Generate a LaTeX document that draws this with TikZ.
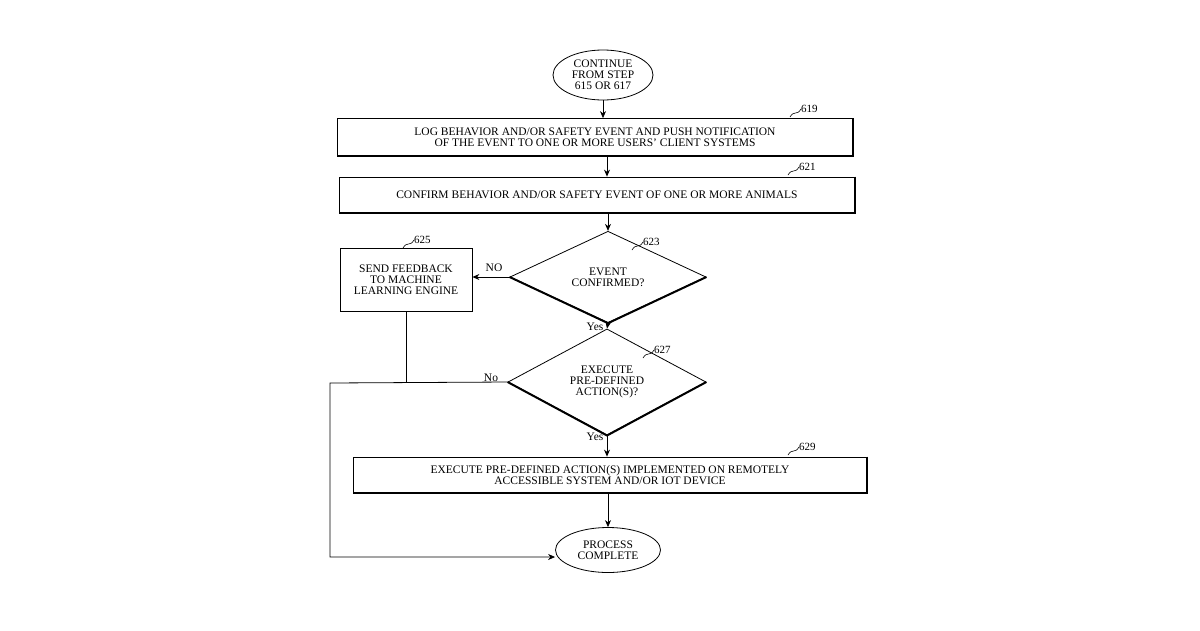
\documentclass[tikz,border=0pt]{standalone}
\usepackage{fontspec}
\setmainfont{Liberation Serif}
\usetikzlibrary{shapes.geometric,arrows.meta}
\begin{document}
\begin{tikzpicture}[x=1pt,y=-1pt,
  every node/.style={font=\fontsize{11.5}{11}\selectfont, align=center, inner sep=1pt},
  box/.style={draw, line width=0.8pt, rectangle},
  dia/.style={draw, line width=0.8pt, diamond},
  term/.style={draw, line width=0.8pt, ellipse},
  arr/.style={-{Stealth[length=7pt,width=6pt]}, line width=0.8pt},
  ln/.style={line width=0.8pt},
  sh/.style={line width=2pt},
  lab/.style={font=\fontsize{11}{11}\selectfont, anchor=south west, inner sep=0pt}]
\useasboundingbox (0,0) rectangle (1200,630);
\node[term, minimum width=100, minimum height=50] (start) at (603,75) {CONTINUE\\FROM STEP\\615 OR 617};
\node[box, minimum width=515, minimum height=37] (b619) at (595,137) {LOG BEHAVIOR AND/OR SAFETY EVENT AND PUSH NOTIFICATION\\OF THE EVENT TO ONE OR MORE USERS' CLIENT SYSTEMS};
\node[box, minimum width=515, minimum height=36] (b621) at (597,195) {CONFIRM BEHAVIOR AND/OR SAFETY EVENT OF ONE OR MORE ANIMALS};
\node[dia, minimum width=196, minimum height=81, inner sep=0pt] (d623) at (608,277) {EVENT\\CONFIRMED?};
\node[box, minimum width=132, minimum height=63] (b625) at (406,280) {SEND FEEDBACK\\TO MACHINE\\LEARNING ENGINE};
\node[dia, minimum width=198, minimum height=97, inner sep=0pt] (d627) at (607,382) {EXECUTE\\PRE-DEFINED\\ACTION(S)?};
\node[box, minimum width=514, minimum height=36] (b629) at (610,475) {EXECUTE PRE-DEFINED ACTION(S) IMPLEMENTED ON REMOTELY\\ACCESSIBLE SYSTEM AND/OR IOT DEVICE};
\node[term, minimum width=105, minimum height=45] (end) at (608,550) {PROCESS\\COMPLETE};
% shadows
\foreach \n in {b619,b621,b629}{\draw[sh] (\n.north east)--(\n.south east)--(\n.south west);}
\foreach \n in {d623,d627}{\draw[sh] (\n.west)--(\n.south)--(\n.east);}
% arrows
\draw[arr] (start.south) -- (start.south |- b619.north);
\draw[arr] (b619.south -| 607,0) -- (b621.north -| 607,0);
\draw[arr] (b621.south -| 608,0) -- (d623.north);
\draw[arr] (d623.west) -- (b625.east |- d623.west);
\draw[arr] (d623.south) -- (d627.north);
\draw[arr] (d627.south) -- (d627.south |- b629.north);
\draw[arr] (b629.south -| 608,0) -- (end.north);
\coordinate (c1) at (330,383);
\coordinate (c2) at (330,557);
\coordinate (c3) at (406,383);
\draw[arr] (d627.west) -- (c1) -- (c2) -- (end.west |- c2);
\draw[ln] (b625.south) -- (c3);
% branch labels
\node at (494,268) {NO};
\node at (595,327) {Yes};
\node at (491,378) {No};
\node at (595,437) {Yes};
% reference numerals
\draw[ln,line width=0.6pt] (790,117) .. controls (794,110) and (797,116) .. (801,109);
\node[lab] at (801,113) {619};
\draw[ln,line width=0.6pt] (788,175) .. controls (792,168) and (795,174) .. (799,167);
\node[lab] at (799,171) {621};
\draw[ln,line width=0.6pt] (403,248) .. controls (407,241) and (410,247) .. (414,240);
\node[lab] at (414,244) {625};
\draw[ln,line width=0.6pt] (632,250) .. controls (636,243) and (639,249) .. (643,242);
\node[lab] at (643,246) {623};
\draw[ln,line width=0.6pt] (643,358) .. controls (647,351) and (650,357) .. (654,350);
\node[lab] at (654,354) {627};
\draw[ln,line width=0.6pt] (788,455) .. controls (792,448) and (795,454) .. (799,447);
\node[lab] at (799,451) {629};
\end{tikzpicture}
\end{document}
